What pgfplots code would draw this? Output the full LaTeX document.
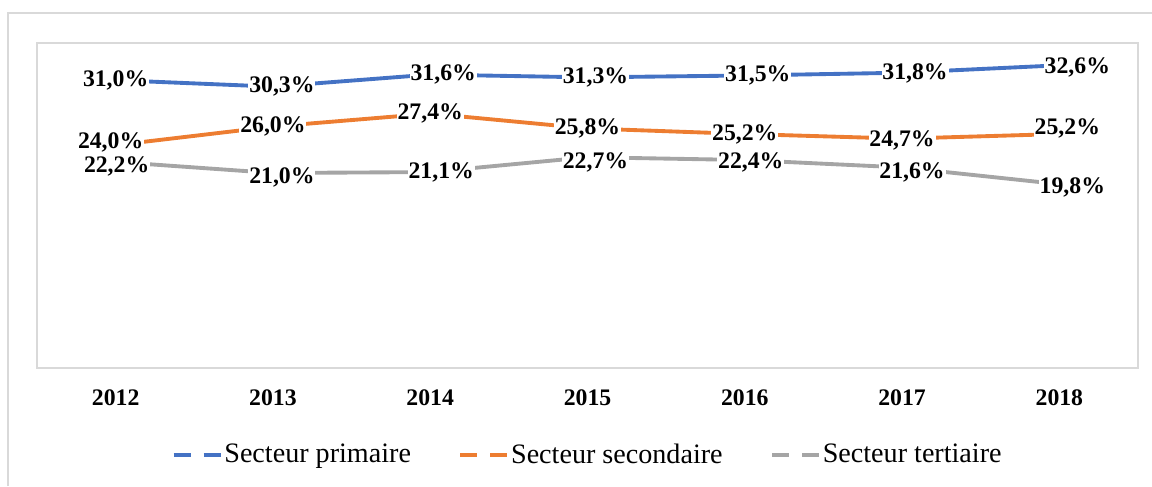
\documentclass[border=0pt]{standalone}
\usepackage{fontspec}
\setmainfont{Liberation Serif}
\usepackage{pgfplots}
\usepackage{pgfplotstable}
\pgfplotsset{compat=1.18}

\definecolor{prim}{HTML}{4472C4}
\definecolor{seco}{HTML}{ED7D31}
\definecolor{tert}{HTML}{A5A5A5}
\definecolor{framegray}{HTML}{D9D9D9}

% x = year index, y = share (%), dx/dy = label nudge in px
\pgfplotstableread{
x y dx dy
0 31.0 0 0
1 30.3 9 0
2 31.6 13 0
3 31.3 8 0
4 31.5 13 0
5 31.8 13 -1
6 32.6 18 -2
}\primaire
\pgfplotstableread{
x y dx dy
0 24.0 -5 3
1 26.0 0 0
2 27.4 0 0
3 25.8 0 0
4 25.2 0 0
5 24.7 0 -2
6 25.2 8 6
}\secondaire
\pgfplotstableread{
x y dx dy
0 22.2 1 -5
1 21.0 9 -4
2 21.1 11 0
3 22.7 8 -5
4 22.4 6 -2
5 21.6 10 -5
6 19.8 13 -3
}\tertiaire

\begin{document}
\begin{tikzpicture}
\useasboundingbox (0,0) rectangle (23.04cm,9.72cm);
\draw[framegray, line width=0.6pt] (0.16cm,0) -- (0.16cm,9.46cm) -- (23.04cm,9.46cm);
\begin{axis}[
  at={(0.74cm,2.36cm)}, anchor=south west,
  scale only axis, width=22.02cm, height=6.5cm,
  xmin=-0.5, xmax=6.5, ymin=0, ymax=35,
  xtick={0,...,6}, xticklabels={2012,2013,2014,2015,2016,2017,2018},
  ytick=\empty, major tick length=0pt,
  axis line style={framegray, line width=0.6pt},
  xticklabel style={font=\rmfamily\fontsize{13.5}{16}\selectfont\bfseries, yshift=-9pt},
  /pgf/number format/assume math mode=true,
  clip=false,
  every axis plot/.append style={line width=2.2pt, line cap=round, line join=round},
  nodes near coords={\pgfmathprintnumber[fixed,fixed zerofill,precision=1,use comma]{\pgfplotspointmeta}\%},
  visualization depends on={\thisrow{dx}\as\dx},
  visualization depends on={\thisrow{dy}\as\dy},
  nodes near coords style={font=\rmfamily\fontsize{13.5}{16}\selectfont\bfseries, text=black,
    anchor=center, fill=white, inner sep=0.5pt,
    xshift={\dx*0.5691pt}, yshift={\dy*0.5691pt}},
  legend columns=3,
  legend style={at={(0.5,-0.2677)}, anchor=center, draw=none, fill=none,
    font=\rmfamily\fontsize{16}{19}\selectfont, nodes={inner sep=1pt},
    /tikz/every even column/.append style={column sep=26pt}},
  legend image code/.code={\draw[#1, line width=2.2pt, line cap=butt, dash pattern=on 9.7pt off 7.4pt] (0pt,0pt) -- (26.8pt,0pt);},
]
\addplot[prim] table[x=x, y=y] {\primaire};
\addlegendentry{Secteur primaire}
\addplot[seco] table[x=x, y=y] {\secondaire};
\addlegendentry{Secteur secondaire}
\addplot[tert] table[x=x, y=y] {\tertiaire};
\addlegendentry{Secteur tertiaire}
\end{axis}
\end{tikzpicture}
\end{document}
